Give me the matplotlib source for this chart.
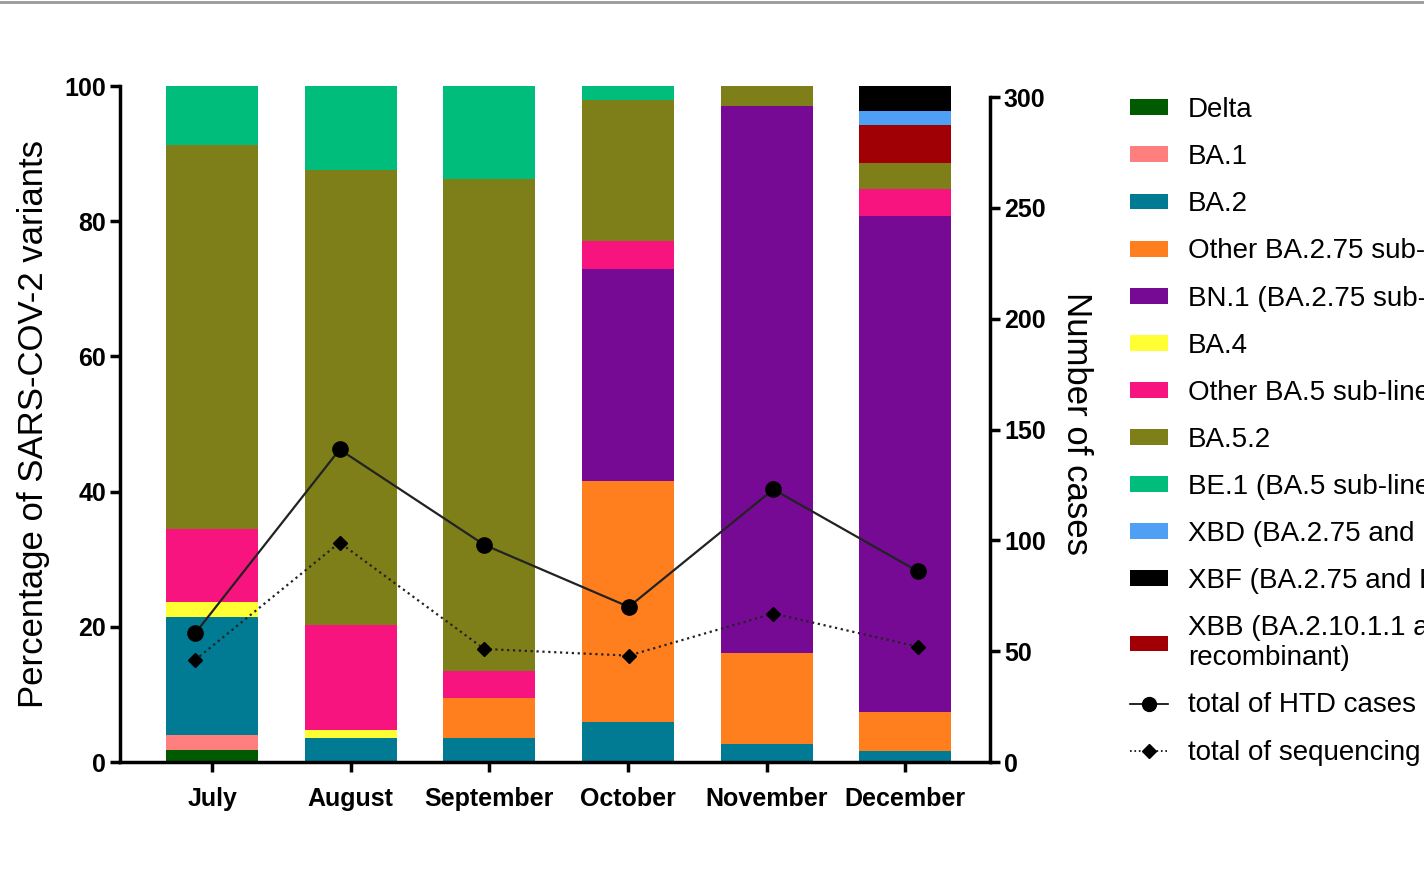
import numpy as np
import matplotlib.pyplot as plt
from matplotlib.patches import Patch
from matplotlib.lines import Line2D

plt.rcParams['font.family'] = ['Liberation Sans', 'DejaVu Sans']

# Months
months = ['July', 'August', 'September', 'October', 'November', 'December']

# Percentages of each variant per month (stacking order bottom -> top)
delta     = [1.8, 0, 0, 0, 0, 0]
ba1       = [2.2, 0, 0, 0, 0, 0]
ba2       = [17.4, 3.6, 3.5, 5.9, 2.7, 1.6]
oth_ba275 = [0, 0, 6.0, 35.6, 13.4, 5.8]
bn1       = [0, 0, 0, 31.5, 81.0, 73.4]
ba4       = [2.2, 1.1, 0, 0, 0, 0]
oth_ba5   = [10.9, 15.5, 3.9, 4.1, 0, 4.0]
ba52      = [56.8, 67.4, 72.9, 20.9, 2.9, 3.8]
be1       = [8.7, 12.4, 13.7, 2.0, 0, 0]
xbb       = [0, 0, 0, 0, 0, 5.7]
xbd       = [0, 0, 0, 0, 0, 2.0]
xbf       = [0, 0, 0, 0, 0, 3.7]

# Number of cases (right axis)
htd_cases = [58, 141, 98, 70, 123, 86]
seq_cases = [46, 99, 51, 48, 67, 52]

series = [
    ('Delta', delta, '#005a00'),
    ('BA.1', ba1, '#ff7f7f'),
    ('BA.2', ba2, '#007b93'),
    ('Other BA.2.75 sub-lineages', oth_ba275, '#ff7f1e'),
    ('BN.1 (BA.2.75 sub-lineage)', bn1, '#760a94'),
    ('BA.4', ba4, '#ffff33'),
    ('Other BA.5 sub-lineages', oth_ba5, '#f8147e'),
    ('BA.5.2', ba52, '#7f7f1a'),
    ('BE.1 (BA.5 sub-lineage)', be1, '#00bd7b'),
    ('XBB (BA.2.10.1.1 and BM.1.1.1\nrecombinant)', xbb, '#a00005'),
    ('XBD (BA.2.75 and BA.5.2.1 recombinant)', xbd, '#4fa0f5'),
    ('XBF (BA.2.75 and BA.5.2.3 recombinant)', xbf, '#000000'),
]
legend_order = [0, 1, 2, 3, 4, 5, 6, 7, 8, 10, 11, 9]

W, H = 1424, 890
fig = plt.figure(figsize=(W / 100, H / 100), dpi=100)
rect = [120 / W, 1 - 762 / H, 870 / W, 676 / H]
ax = fig.add_axes(rect)

x = np.arange(len(months))
bottom = np.zeros(len(months))
for name, vals, col in series:
    v = np.array(vals, dtype=float)
    ax.bar(x, v, 0.664, bottom=bottom, color=col, edgecolor='none')
    bottom += v

ax.set_xlim(-0.664, 5.61)
ax.set_ylim(0, 100)
ax.set_yticks([0, 20, 40, 60, 80, 100])
ax.set_xticks(x)
ax.set_xticklabels(months, fontweight='bold', fontsize=18)
for lab in ax.get_yticklabels():
    lab.set_fontweight('bold')
    lab.set_fontsize(18)
ax.tick_params(width=2.5, length=7, pad=3)
ax.tick_params(axis='x', pad=11)
for s in ['top', 'right']:
    ax.spines[s].set_visible(False)
for s in ['left', 'bottom']:
    ax.spines[s].set_linewidth(2.5)
ax.set_ylabel('Percentage of SARS-COV-2 variants', fontsize=25, labelpad=10)

# Lines on an overlaid axes with the right-hand scale
ax2 = fig.add_axes(rect, facecolor='none')
ax2.set_xlim(-0.519, 5.498)
ax2.set_ylim(0, 305)
ax2.plot(x, htd_cases, '-', color='#222222', lw=1.6, marker='o', ms=11,
         mfc='black', mec='black')
ax2.plot(x, seq_cases, ':', color='#222222', lw=1.6, marker='D', ms=7,
         mfc='black', mec='black')
ax2.set_xticks([])
ax2.yaxis.tick_right()
ax2.yaxis.set_label_position('right')
ax2.set_yticks([0, 50, 100, 150, 200, 250, 300])
for lab in ax2.get_yticklabels():
    lab.set_fontweight('bold')
    lab.set_fontsize(18)
ax2.tick_params(width=2.5, length=7, pad=3)
for s in ['top', 'left', 'bottom']:
    ax2.spines[s].set_visible(False)
ax2.spines['right'].set_linewidth(2.5)
ax2.spines['right'].set_bounds(0, 300)
ax2.set_ylabel('Number of cases', fontsize=25, rotation=270, va='bottom',
               labelpad=10)

handles = [Patch(facecolor=series[i][2], edgecolor='none') for i in legend_order]
labels = [series[i][0] for i in legend_order]
handles += [Line2D([], [], color='black', lw=1.2, marker='o', ms=10),
            Line2D([], [], color='black', lw=1.2, ls=':', marker='D', ms=7)]
labels += ['total of HTD cases', 'total of sequencing']
fig.legend(handles, labels, loc='upper left', bbox_to_anchor=(1119 / W, 1 - 86 / H),
           frameon=False, fontsize=20, handlelength=1.37, handleheight=0.5,
           handletextpad=0.72, labelspacing=0.76, borderaxespad=0)

# thin grey frame line along the top edge, as in the screenshot
fig.add_artist(Line2D([0, 1], [0.998, 0.998], color='#999999', lw=2,
                      transform=fig.transFigure))

fig.savefig('out.png', dpi=100)
